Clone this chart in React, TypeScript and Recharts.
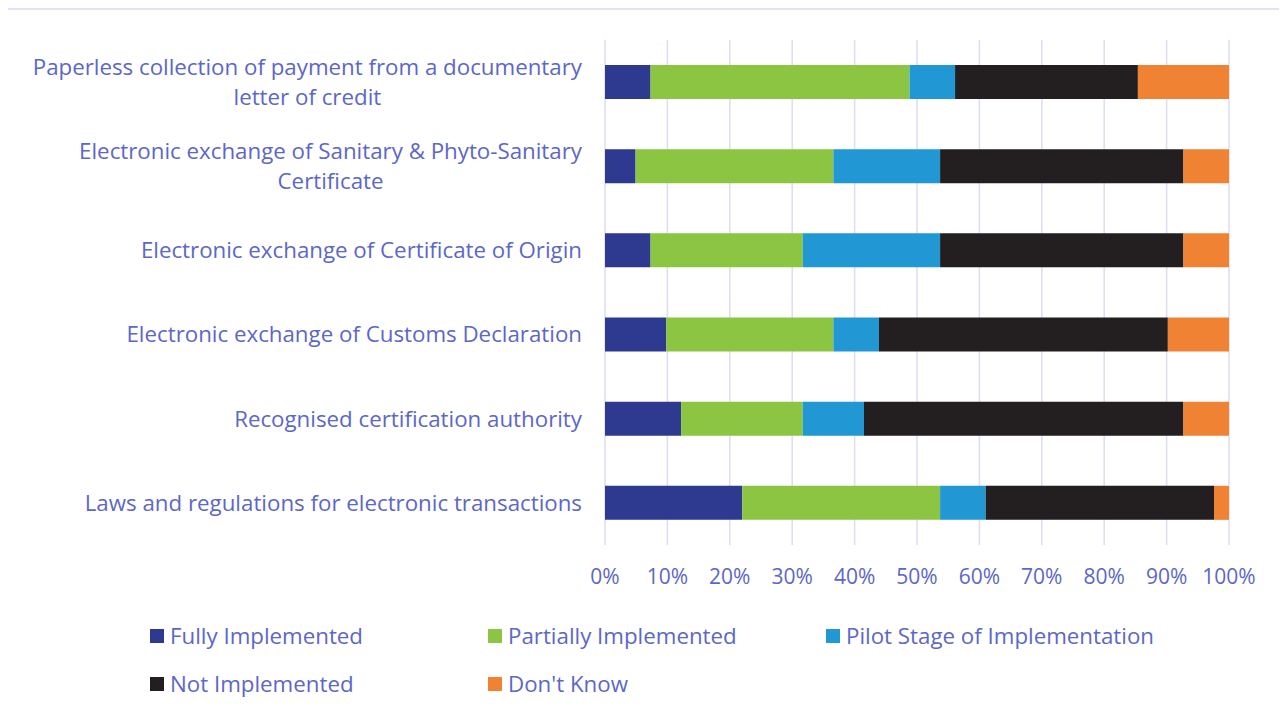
import React from 'react';
import { BarChart, Bar, XAxis, YAxis, CartesianGrid } from 'recharts';

const categories = [
  'Paperless collection of payment from a documentary\nletter of credit',
  'Electronic exchange of Sanitary & Phyto-Sanitary\nCertificate',
  'Electronic exchange of Certificate of Origin',
  'Electronic exchange of Customs Declaration',
  'Recognised certification authority',
  'Laws and regulations for electronic transactions',
];
const fully = [7.3, 4.9, 7.3, 9.8, 12.2, 22.0];
const partial = [41.5, 31.7, 24.4, 26.8, 19.5, 31.7];
const pilot = [7.3, 17.1, 22.0, 7.3, 9.8, 7.3];
const notImpl = [29.3, 39.0, 39.0, 46.3, 51.2, 36.6];
const dontKnow = [14.6, 7.3, 7.3, 9.8, 7.3, 2.4];
const xTicks = [0, 10, 20, 30, 40, 50, 60, 70, 80, 90, 100];

const series = [
  { key: 'fully', name: 'Fully Implemented', color: '#2e3990' },
  { key: 'partial', name: 'Partially Implemented', color: '#8cc541' },
  { key: 'pilot', name: 'Pilot Stage of Implementation', color: '#2197d4' },
  { key: 'notImpl', name: 'Not Implemented', color: '#231f20' },
  { key: 'dontKnow', name: "Don't Know", color: '#ef8233' },
];

const data = categories.map((name, i) => ({
  name,
  fully: fully[i],
  partial: partial[i],
  pilot: pilot[i],
  notImpl: notImpl[i],
  dontKnow: dontKnow[i],
}));

const FONT = '"Open Sans", Lato, sans-serif';
const TEXT = '#5c67c8';
const FS = 22.3;
const TICK_FS = 21;

function measure(text: string) {
  const ctx = document.createElement('canvas').getContext('2d');
  if (!ctx) return text.length * FS * 0.52;
  ctx.font = `${FS}px "Open Sans"`;
  return ctx.measureText(text).width;
}

function CategoryTick(props: any) {
  const { x, y, payload } = props;
  const lines: string[] = String(payload.value).split('\n');
  if (lines.length === 1) {
    return (
      <text x={x} y={y} dy="0.35em" textAnchor="end" fill={TEXT} fontSize={FS} fontFamily={FONT}>
        {lines[0]}
      </text>
    );
  }
  const w = Math.max(...lines.map(measure));
  const cx = x - w / 2;
  const lh = 30;
  const start = y - ((lines.length - 1) * lh) / 2;
  return (
    <text textAnchor="middle" fill={TEXT} fontSize={FS} fontFamily={FONT}>
      {lines.map((l, i) => (
        <tspan key={i} x={cx} y={start + i * lh} dy="0.35em">
          {l}
        </tspan>
      ))}
    </text>
  );
}

function LegendBox() {
  const cols = [142, 480, 818];
  return (
    <div style={{ position: 'absolute', left: 0, top: 0, width: '100%', height: '100%', pointerEvents: 'none' }}>
      {series.map((s, i) => (
        <div
          key={s.key}
          style={{
            position: 'absolute',
            left: cols[i % 3],
            top: (i < 3 ? 628 : 676) - 18,
            display: 'flex',
            alignItems: 'center',
            fontFamily: FONT,
            fontSize: FS,
            color: TEXT,
            lineHeight: '32px',
          }}
        >
          <span style={{ width: 14, height: 14, background: s.color, marginRight: 6, display: 'inline-block' }} />
          {s.name}
        </div>
      ))}
    </div>
  );
}

export default function App() {
  return (
    <div
      style={{
        position: 'relative',
        width: 1281,
        height: 707,
        marginLeft: -2,
        boxSizing: 'border-box',
        borderTop: '2px solid #e2e2f5',
        borderLeft: '2px solid #e2e2f5',
        overflow: 'hidden',
      }}
    >
      <BarChart
        width={1279}
        height={705}
        data={data}
        layout="vertical"
        margin={{ top: 30, right: 58, left: 0, bottom: 0 }}
        barSize={34}
      >
        <CartesianGrid horizontal={false} stroke="#dcdcf3" strokeWidth={1.5} />
        <XAxis
          type="number"
          domain={[0, 100]}
          ticks={xTicks}
          tickFormatter={(v: number) => `${v}%`}
          axisLine={false}
          tickLine={false}
          tickMargin={18}
          height={170}
          interval={0}
          tick={{ fill: TEXT, fontSize: TICK_FS, fontFamily: FONT }}
        />
        <YAxis
          type="category"
          dataKey="name"
          width={597}
          axisLine={false}
          tickLine={false}
          tickMargin={17}
          interval={0}
          tick={<CategoryTick />}
        />
        {series.map((s) => (
          <Bar key={s.key} dataKey={s.key} name={s.name} stackId="a" fill={s.color} isAnimationActive={false} />
        ))}
      </BarChart>
      <LegendBox />
    </div>
  );
}
